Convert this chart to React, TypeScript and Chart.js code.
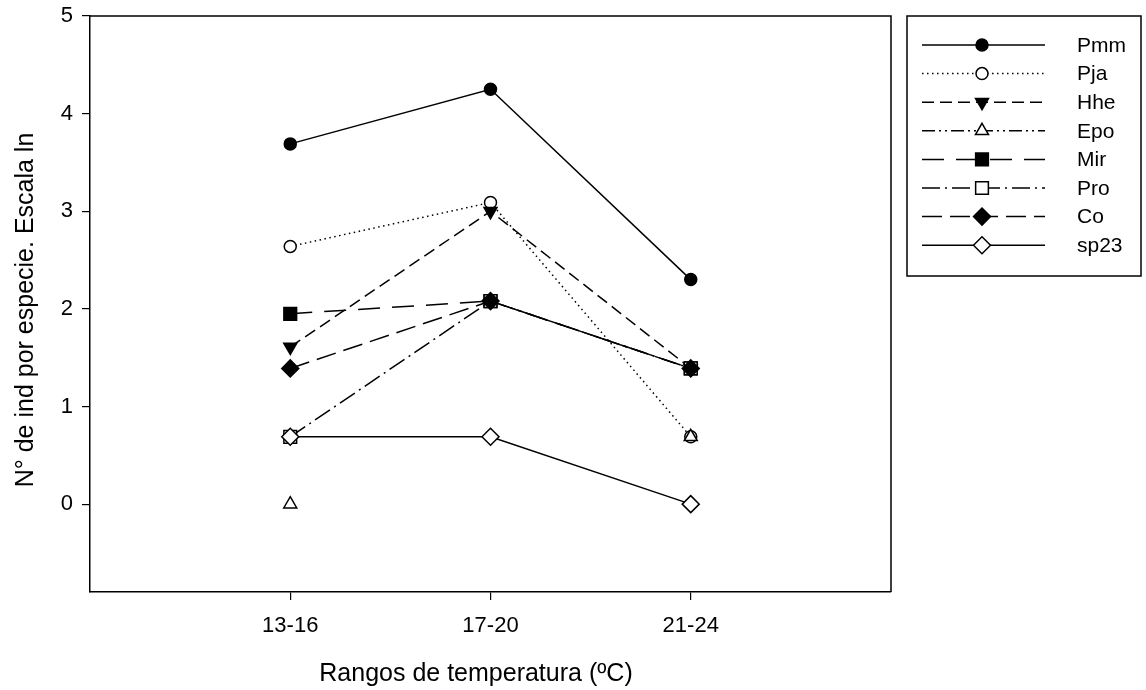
import React, { useEffect, useRef } from 'react';
import { Chart, registerables } from 'chart.js';

Chart.register(...registerables);

// ---- Data (ln of number of individuals per species) ----
const categories = ['13-16', '17-20', '21-24'];
const seriesNames = ['Pmm', 'Pja', 'Hhe', 'Epo', 'Mir', 'Pro', 'Co', 'sp23'];
const pmm = [3.69, 4.25, 2.3];
const pja = [2.64, 3.09, 0.69];
const hhe = [1.61, 3.0, 1.39];
const epo = [0, null, 0.69];
const mir = [1.95, 2.08, 1.39];
const pro = [0.69, 2.08, 1.39];
const co = [1.39, 2.08, 1.39];
const sp23 = [0.69, 0.69, 0];
const yTicks = [0, 1, 2, 3, 4, 5];
const xTickPositions = [0, 1, 2];
const xTitle = 'Rangos de temperatura (ºC)';
const yTitle = 'N° de ind por especie. Escala ln';

const seriesValues = [pmm, pja, hhe, epo, mir, pro, co, sp23];

// ---- Styles ----
const FONT = '"Liberation Sans", Arial, Helvetica, sans-serif';
const seriesStyles = [
  { shape: 'circle', filled: true, r: 6, rot: 0, dash: [] as number[] },
  { shape: 'circle', filled: false, r: 6, rot: 0, dash: [1.5, 3.5] },
  { shape: 'triangle', filled: true, r: 7.5, rot: 180, dash: [12, 6] },
  { shape: 'triangle', filled: false, r: 7.5, rot: 0, dash: [13, 4, 2, 4, 2, 4] },
  { shape: 'rect', filled: true, r: 9, rot: 0, dash: [22, 12] },
  { shape: 'rect', filled: false, r: 9, rot: 0, dash: [18, 5, 2, 5] },
  { shape: 'rectRot', filled: true, r: 8.5, rot: 0, dash: [20, 8] },
  { shape: 'rectRot', filled: false, r: 8.5, rot: 0, dash: [] as number[] },
];

function drawMarker(ctx: CanvasRenderingContext2D, shape: string, x: number, y: number, r: number, rotDeg: number, filled: boolean) {
  ctx.save();
  ctx.setLineDash([]);
  ctx.lineWidth = 1.5;
  ctx.strokeStyle = '#000';
  ctx.fillStyle = filled ? '#000' : '#fff';
  ctx.beginPath();
  let rad = (rotDeg * Math.PI) / 180;
  if (shape === 'circle') {
    ctx.arc(x, y, r, 0, Math.PI * 2);
  } else if (shape === 'triangle') {
    const t = (2 * Math.PI) / 3;
    ctx.moveTo(x + Math.sin(rad) * r, y - Math.cos(rad) * r);
    rad += t;
    ctx.lineTo(x + Math.sin(rad) * r, y - Math.cos(rad) * r);
    rad += t;
    ctx.lineTo(x + Math.sin(rad) * r, y - Math.cos(rad) * r);
    ctx.closePath();
  } else if (shape === 'rect') {
    const s = Math.SQRT1_2 * r;
    ctx.rect(x - s, y - s, 2 * s, 2 * s);
  } else if (shape === 'rectRot') {
    ctx.moveTo(x - r, y);
    ctx.lineTo(x, y - r);
    ctx.lineTo(x + r, y);
    ctx.lineTo(x, y + r);
    ctx.closePath();
  }
  ctx.fill();
  ctx.stroke();
  ctx.restore();
}

const frameAndLegend = {
  id: 'frameAndLegend',
  afterDraw(chart: any) {
    const ctx: CanvasRenderingContext2D = chart.ctx;
    const a = chart.chartArea;
    ctx.save();
    ctx.strokeStyle = '#000';
    ctx.lineWidth = 1.5;
    ctx.setLineDash([]);
    ctx.beginPath();
    ctx.moveTo(a.left, a.top);
    ctx.lineTo(a.right, a.top);
    ctx.lineTo(a.right, a.bottom);
    ctx.stroke();

    // axis titles
    ctx.fillStyle = '#000';
    ctx.font = `25px ${FONT}`;
    ctx.textAlign = 'center';
    ctx.textBaseline = 'alphabetic';
    ctx.fillText(xTitle, 476, 681);
    ctx.save();
    ctx.translate(33, 310);
    ctx.rotate(-Math.PI / 2);
    ctx.fillText(yTitle, 0, 0);
    ctx.restore();

    // legend box
    const bx = 907, by = 16, bw = 234, bh = 260;
    ctx.strokeRect(bx, by, bw, bh);
    const x0 = 922, x1 = 1045, xm = 982, xt = 1077;
    chart.data.datasets.forEach((ds: any, i: number) => {
      const st = seriesStyles[i];
      const y = 45 + 28.6 * i;
      ctx.save();
      ctx.lineWidth = 1.5;
      ctx.strokeStyle = '#000';
      ctx.setLineDash(st.dash);
      ctx.beginPath();
      ctx.moveTo(x0, y);
      ctx.lineTo(x1, y);
      ctx.stroke();
      ctx.restore();
      drawMarker(ctx, st.shape, xm, y, st.r, st.rot, st.filled);
      ctx.fillStyle = '#000';
      ctx.font = `21px ${FONT}`;
      ctx.textAlign = 'left';
      ctx.textBaseline = 'middle';
      ctx.fillText(ds.label, xt, y + 1);
    });
    ctx.restore();
  },
};

export default function App() {
  const ref = useRef<HTMLCanvasElement | null>(null);

  useEffect(() => {
    if (!ref.current) return;
    const datasets = seriesValues.map((vals, i) => {
      const st = seriesStyles[i];
      return {
        label: seriesNames[i],
        data: vals.map((v, j) => ({ x: j, y: v })),
        borderColor: '#000',
        borderWidth: 1.5,
        borderDash: st.dash,
        backgroundColor: st.filled ? '#000' : '#fff',
        pointStyle: st.shape,
        pointRadius: st.r,
        pointRotation: st.rot,
        pointBackgroundColor: st.filled ? '#000' : '#fff',
        pointBorderColor: '#000',
        pointBorderWidth: 1.5,
        tension: 0,
        fill: false,
        spanGaps: false,
        order: seriesValues.length - 1 - i,
      };
    });

    const chart = new Chart(ref.current, {
      type: 'line',
      data: { datasets },
      plugins: [frameAndLegend],
      options: {
        animation: false,
        responsive: false,
        devicePixelRatio: 1,
        layout: { padding: { left: 0, top: 16, right: 255, bottom: 0 } },
        plugins: {
          legend: { display: false },
          tooltip: { enabled: false },
        },
        scales: {
          x: {
            type: 'linear',
            min: -1,
            max: 3,
            afterBuildTicks: (s: any) => {
              s.ticks = xTickPositions.map((v) => ({ value: v }));
            },
            afterFit: (s: any) => {
              s.height = 98;
              s.paddingLeft = 0;
              s.paddingRight = 0;
            },
            ticks: {
              color: '#000',
              font: { family: FONT, size: 22 },
              padding: 13,
              maxRotation: 0,
              callback: (v: any) => categories[v] ?? '',
            },
            grid: { display: true, drawOnChartArea: false, drawTicks: true, tickLength: 8, color: '#000', lineWidth: 1.2 },
            border: { display: true, color: '#000', width: 1.5 },
            title: { display: false },
          },
          y: {
            type: 'linear',
            min: -0.9,
            max: 5,
            afterBuildTicks: (s: any) => {
              s.ticks = yTicks.map((v) => ({ value: v }));
            },
            afterFit: (s: any) => {
              s.width = 90;
              s.paddingTop = 0;
              s.paddingBottom = 0;
            },
            ticks: {
              color: '#000',
              font: { family: FONT, size: 22 },
              padding: 9,
              callback: (v: any) => String(v),
            },
            grid: { display: true, drawOnChartArea: false, drawTicks: true, tickLength: 8, color: '#000', lineWidth: 1.2 },
            border: { display: true, color: '#000', width: 1.5 },
            title: { display: false },
          },
        },
      } as any,
    });
    return () => chart.destroy();
  }, []);

  return (
    <div style={{ position: 'absolute', left: 0, top: 0, width: 1146, height: 690, background: '#fff' }}>
      <canvas ref={ref} width={1146} height={690} style={{ display: 'block', width: 1146, height: 690 }} />
    </div>
  );
}
